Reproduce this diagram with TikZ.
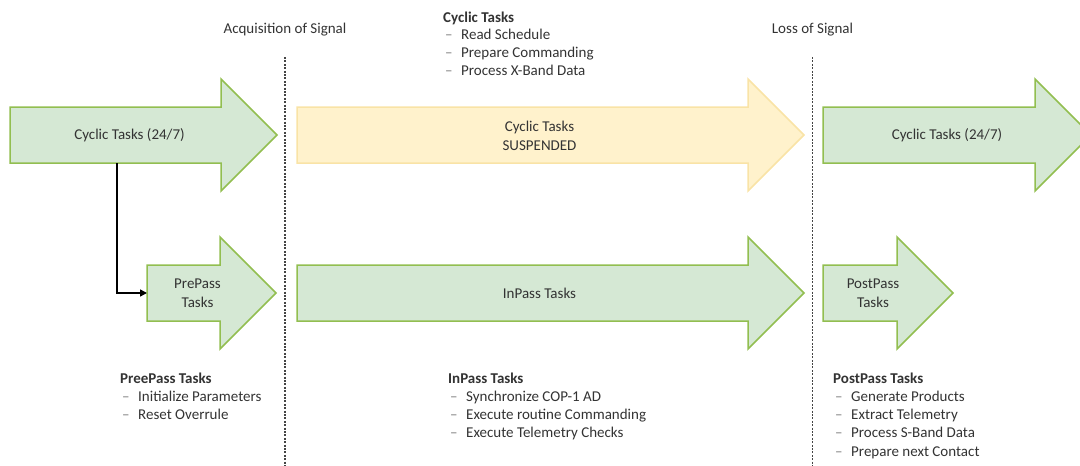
\documentclass[tikz,border=0pt]{standalone}
\usepackage{fontspec}
\setmainfont{Carlito}
\usetikzlibrary{arrows.meta,backgrounds}
\definecolor{gfill}{HTML}{D5E8D4}
\definecolor{gline}{RGB}{146,190,80}
\definecolor{yfill}{HTML}{FFF2CC}
\definecolor{yline}{HTML}{F9E3A6}
\definecolor{txt}{HTML}{333333}
\definecolor{dashc}{HTML}{808080}
\definecolor{sepc}{HTML}{444444}
\newcommand\arrowoutline[2]{%
  \begin{pgfonlayer}{background}
  \draw[#2] (#1.north west) -- (#1.north east) -- ([yshift=28pt]#1.north east)
     -- ([xshift=56pt]#1.east) -- ([yshift=-28pt]#1.south east)
     -- (#1.south east) -- (#1.south west) -- cycle;
  \end{pgfonlayer}}
\newcommand\itm[1]{\hspace*{2pt}\makebox[16pt][l]{\textcolor{dashc}{–}}#1}
\tikzset{
  body/.style={draw=none, minimum height=56pt, inner sep=0pt, outer sep=0pt},
  greenarrow/.style={fill=gfill, draw=gline, line width=1.5pt, line join=miter},
  yellowarrow/.style={fill=yfill, draw=yline, line width=1.5pt, line join=miter},
  atext/.style={text=txt, align=center, inner sep=0pt},
  listtxt/.style={text=txt, inner sep=0pt, anchor=base west, font=\fontsize{15}{18.3}\selectfont},
  sepline/.style={draw=sepc, line width=1.4pt, dash pattern=on 2pt off 1.4pt},
  conn/.style={draw=black, line width=1.5pt, -{Triangle[length=7pt,width=7pt]}}
}
\begin{document}
\begin{tikzpicture}[x=1pt,y=-1pt,font=\fontsize{15}{18.5}\selectfont]
\useasboundingbox (0,0) rectangle (1080,466);
\clip (0,0) rectangle (1080,466);
% separators
\coordinate (aosTop) at (285,57);
\coordinate (aosBot) at (285,466);
\coordinate (losTop) at (812.5,57);
\coordinate (losBot) at (812.5,466);
\draw[sepline] (aosTop) -- (aosBot);
\draw[sepline] (losTop) -- (losBot);
\node[atext] (aos) at (285,30) {Acquisition of Signal};
\node[atext] (los) at (812.5,30) {Loss of Signal};
% top row
\node[body, minimum width=211pt] (cycA) at (115.5,135) {};
\arrowoutline{cycA}{greenarrow}
\node[atext] (cycAt) at ([xshift=14pt]cycA.center) {Cyclic Tasks (24/7)};
\node[body, minimum width=451pt] (cycS) at (522.5,135) {};
\arrowoutline{cycS}{yellowarrow}
\node[atext] (cycSt) at ([xshift=17pt,yshift=-1pt]cycS.center) {Cyclic Tasks\\SUSPENDED};
\node[body, minimum width=212pt] (cycB) at (929,135) {};
\arrowoutline{cycB}{greenarrow}
\node[atext] (cycBt) at ([xshift=18pt]cycB.center) {Cyclic Tasks (24/7)};
% bottom row
\node[body, minimum width=73pt] (pre) at (183.5,293) {};
\arrowoutline{pre}{greenarrow}
\node[atext] (pret) at ([xshift=14pt]pre.center) {PrePass\\Tasks};
\node[body, minimum width=451pt] (in) at (522.5,293) {};
\arrowoutline{in}{greenarrow}
\node[atext] (int) at ([xshift=17pt]in.center) {InPass Tasks};
\node[body, minimum width=74pt] (post) at (860,293) {};
\arrowoutline{post}{greenarrow}
\node[atext] (postt) at ([xshift=13pt]post.center) {PostPass\\Tasks};
% connector
\coordinate (branch) at (117,163);
\draw[conn] (branch) |- (pre.west);
% lists
\node[listtxt] (lcyc) at (443,22) {\begin{tabular}[t]{@{}l@{}}
\textbf{Cyclic Tasks}\\[-1pt] \itm{Read Schedule}\\ \itm{Prepare Commanding}\\ \itm{Process X-Band Data}\end{tabular}};
\node[listtxt] (lpre) at (120,383) {\begin{tabular}[t]{@{}l@{}}
\textbf{PreePass Tasks}\\ \itm{Initialize Parameters}\\ \itm{Reset Overrule}\end{tabular}};
\node[listtxt] (lin) at (448,383) {\begin{tabular}[t]{@{}l@{}}
\textbf{InPass Tasks}\\ \itm{Synchronize COP-1 AD}\\ \itm{Execute routine Commanding}\\ \itm{Execute Telemetry Checks}\end{tabular}};
\node[listtxt] (lpost) at (833,383) {\begin{tabular}[t]{@{}l@{}}
\textbf{PostPass Tasks}\\ \itm{Generate Products}\\ \itm{Extract Telemetry}\\ \itm{Process S-Band Data}\\ \itm{Prepare next Contact}\end{tabular}};
\end{tikzpicture}
\end{document}
